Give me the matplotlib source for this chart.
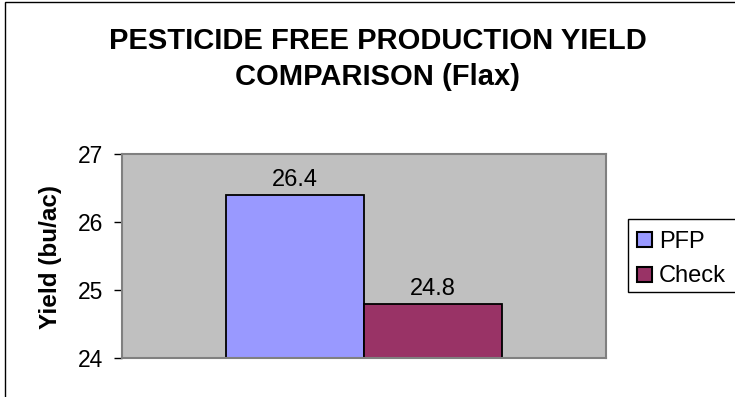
import matplotlib
matplotlib.use("Agg")
import matplotlib.pyplot as plt
from matplotlib.patches import Rectangle

# values
series = ["PFP", "Check"]
yields = [26.4, 24.8]
bar_colors = ["#9999FF", "#993366"]
y_ticks = [24, 25, 26, 27]

plt.rcParams["font.family"] = ["Liberation Sans", "DejaVu Sans"]

W, H = 735, 397
fig = plt.figure(figsize=(W / 100, H / 100), dpi=100)
ax = fig.add_axes([122 / W, 1 - 358 / H, 484 / W, 204 / H])
ax.set_facecolor("#C0C0C0")

xs = [-0.5, 0.5]
ax.bar(xs, [v - 24 for v in yields], bottom=24, width=1.0,
       color=bar_colors, edgecolor="black", linewidth=1.3)
for x, v in zip(xs, yields):
    ax.annotate(f"{v:.1f}", (x, v), xytext=(0, 6.5), textcoords="offset points",
                ha="center", va="baseline", fontsize=17)

ax.set_xlim(-1.754, 1.754)
ax.set_ylim(24, 27)
ax.set_yticks(y_ticks)
ax.set_yticklabels([str(t) for t in y_ticks], fontsize=16.5)
ax.set_xticks([])
ax.tick_params(axis="y", direction="out", length=6, width=1, color="black", pad=7.5)
for s in ax.spines.values():
    s.set_color("#808080")
    s.set_linewidth(1.5)
ax.set_ylabel("Yield (bu/ac)", fontsize=17.5, fontweight="bold")
ax.yaxis.set_label_coords(62 / W, 1 - 257 / H, transform=fig.transFigure)

fig.text(0.514, 1 - 59 / H, "PESTICIDE FREE PRODUCTION YIELD\nCOMPARISON (Flax)",
         ha="center", va="center", fontsize=21, fontweight="bold",
         linespacing=1.4)

# legend box, drawn by hand to sit where the reference puts it
fig.patches.append(Rectangle((628 / W, 1 - 292 / H), 0.2, 73 / H,
                             transform=fig.transFigure, facecolor="white",
                             edgecolor="black", linewidth=1))
for k, (name, c) in enumerate(zip(series, bar_colors)):
    yc = 239 + 35 * k
    fig.patches.append(Rectangle((637 / W, 1 - (yc + 7.5) / H), 15 / W, 15 / H,
                                 transform=fig.transFigure, facecolor=c,
                                 edgecolor="black", linewidth=1.5))
    fig.text(659 / W, 1 - yc / H, name, ha="left", va="center_baseline",
             fontsize=17)

# outer chart border (only left and top fall inside the crop)
fig.patches.append(Rectangle((5 / W, -0.1), 1.2, 1.1 - 2 / H,
                             transform=fig.transFigure, fill=False,
                             edgecolor="black", linewidth=1))

fig.savefig("out.png", dpi=100)
